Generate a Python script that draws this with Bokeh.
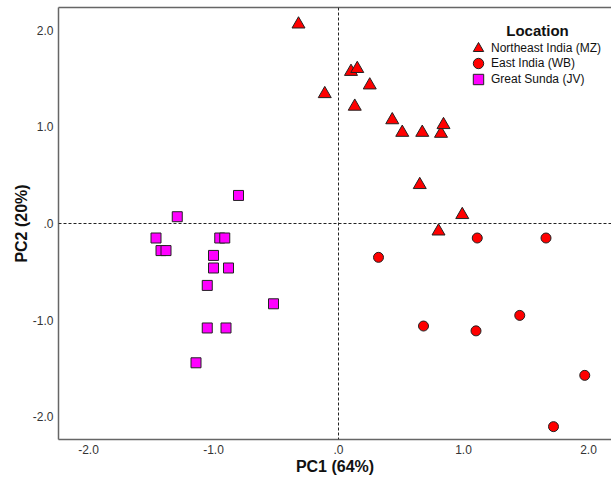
from bokeh.plotting import figure
from bokeh.models import (Span, Legend, LegendItem, Label, FixedTicker, LinearAxis, Range1d)
from bokeh.embed import file_html
from bokeh.resources import INLINE

# Data
ne_x = [-0.32, -0.11, 0.10, 0.15, 0.25, 0.13, 0.43, 0.51, 0.67, 0.82, 0.84, 0.65, 0.99, 0.80]
ne_y = [2.06, 1.34, 1.57, 1.60, 1.43, 1.21, 1.07, 0.94, 0.94, 0.93, 1.02, 0.40, 0.09, -0.08]

ei_x = [0.32, 1.11, 1.66, 0.68, 1.10, 1.45, 1.97, 1.72]
ei_y = [-0.35, -0.15, -0.15, -1.06, -1.11, -0.95, -1.57, -2.10]

gs_x = [-0.80, -1.29, -1.46, -0.95, -0.91, -1.42, -1.38, -1.00, -1.00, -0.88, -1.05, -0.52, -1.05, -0.90, -1.14]
gs_y = [0.29, 0.07, -0.15, -0.15, -0.15, -0.28, -0.28, -0.33, -0.46, -0.46, -0.64, -0.83, -1.08, -1.08, -1.44]

tick_vals = [-2, -1, 0, 1, 2]
tick_labels = ["-2.0", "-1.0", ".0", "1.0", "2.0"]
series_names = ["Northeast India (MZ)", "East India (WB)", "Great Sunda (JV)"]

FONT = "Liberation Sans"
AXIS_COL = "#666666"

p = figure(width=611, height=481, output_backend="svg", toolbar_location=None,
           x_range=Range1d(-2.24, 2.184), y_range=Range1d(-2.233, 2.233),
           min_border_left=58, min_border_right=0, min_border_top=7, min_border_bottom=42)
p.outline_line_color = None
p.grid.visible = False
p.background_fill_color = "white"
p.border_fill_color = "white"

for ax in (p.xaxis[0], p.yaxis[0]):
    ax.ticker = FixedTicker(ticks=tick_vals)
    ax.major_label_overrides = {v: l for v, l in zip(tick_vals, tick_labels)}
    ax.major_tick_line_color = None
    ax.minor_tick_line_color = None
    ax.major_tick_out = 0
    ax.major_tick_in = 0
    ax.minor_tick_out = 0
    ax.minor_tick_in = 0
    ax.axis_line_color = AXIS_COL
    ax.axis_line_width = 1.5
    ax.major_label_text_font = FONT
    ax.major_label_text_font_size = "12px"
    ax.major_label_text_color = "#333333"
    ax.axis_label_text_font = FONT
    ax.axis_label_text_font_size = "16px"
    ax.axis_label_text_font_style = "bold"
    ax.axis_label_text_color = "#111111"
    ax.major_label_standoff = 5
    ax.axis_label_standoff = 0

p.xaxis.axis_label = "PC1 (64%)"
p.yaxis.axis_label = "PC2 (20%)"
p.xaxis.major_label_standoff = 5
p.xaxis.axis_label_standoff = 1

top = LinearAxis(ticker=FixedTicker(ticks=[]), major_tick_line_color=None,
                 minor_tick_line_color=None, major_tick_out=0, major_tick_in=0,
                 minor_tick_out=0, minor_tick_in=0,
                 axis_line_color=AXIS_COL, axis_line_width=1.5,
                 major_label_standoff=0, major_label_text_font_size="0px")
p.add_layout(top, "above")

p.add_layout(Span(location=0, dimension="height", line_color="#222222", line_dash="3 2", line_width=1))
p.add_layout(Span(location=0, dimension="width", line_color="#222222", line_dash="3 2", line_width=1))

r1 = p.scatter(ne_x, ne_y, marker="triangle", size=13, fill_color="#FF0000", line_color="#222222", line_width=1)
r2 = p.scatter(ei_x, ei_y, marker="circle", size=10, fill_color="#FF0000", line_color="#222222", line_width=1)
r3 = p.scatter(gs_x, gs_y, marker="square", size=10, fill_color="#FF00FF", line_color="#222222", line_width=1)

# one single-item legend per series, stacked 15-16 px apart
legend_bottoms = [378, 363, 347]
for name, rend, yb in zip(series_names, [r1, r2, r3], legend_bottoms):
    lg = Legend(items=[LegendItem(label=name, renderers=[rend])],
                location=(407, yb), padding=0, margin=0, spacing=0,
                glyph_width=26, glyph_height=26, label_height=15, label_standoff=0,
                label_text_font=FONT, label_text_font_size="12px", label_text_color="#111111",
                border_line_color=None, background_fill_alpha=0)
    p.add_layout(lg, "center")

p.add_layout(Label(x=1.592, y=1.995, text="Location", text_align="center", text_baseline="middle",
                   text_font=FONT, text_font_size="15px", text_font_style="bold", text_color="#111111"))

open("out.html", "w").write(file_html(p, INLINE))
